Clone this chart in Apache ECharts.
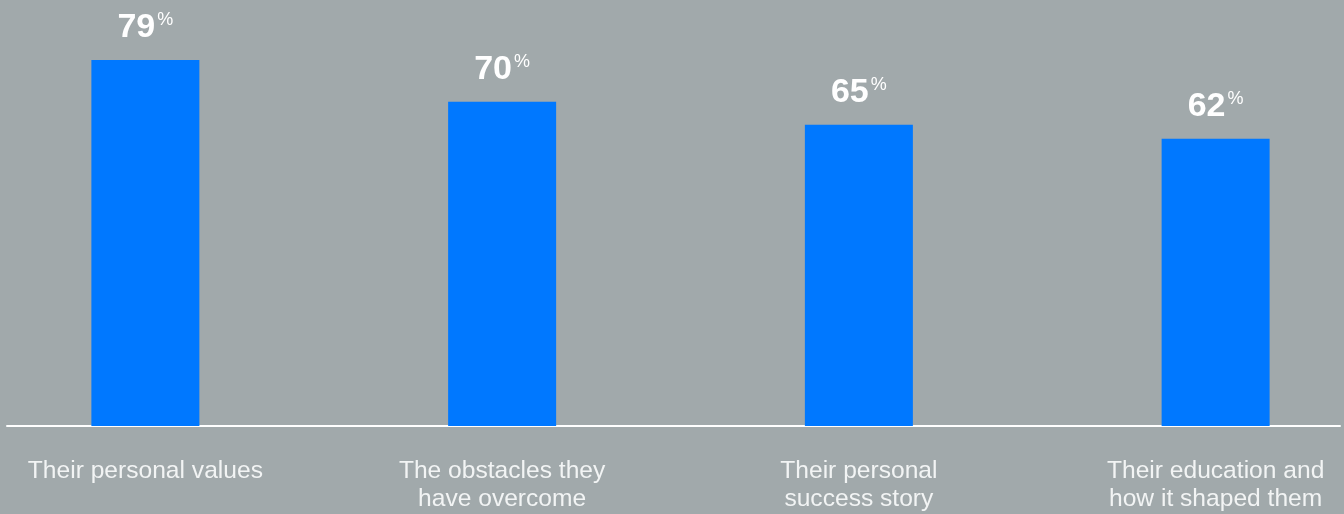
<!DOCTYPE html>
<html>
<head>
<meta charset="utf-8">
<script src="https://cdn.jsdelivr.net/npm/echarts@6/dist/echarts.min.js"></script>
<style>
html, body { margin: 0; padding: 0; background: #A1A9AB; }
#chart { width: 1344px; height: 514px; }
</style>
</head>
<body>
<div id="chart"></div>
<script>
var categories = ['Their personal values', 'The obstacles they\nhave overcome', 'Their personal\nsuccess story', 'Their education and\nhow it shaped them'];
var values = [79, 70, 65, 62];

var chart = echarts.init(document.getElementById('chart'));

var option = {
	backgroundColor: '#A1A9AB',
	animation: false,
	grid: [
		// bars (wider than the canvas so the columns land where they are in the source)
		{ left: -33, right: -50, top: 9, bottom: 88, outerBoundsMode: 'none', containLabel: false },
		// baseline only
		{ left: 7, right: 4, top: 9, bottom: 88, outerBoundsMode: 'none' }
	],
	xAxis: [{
		type: 'category',
		gridIndex: 0,
		data: categories,
		axisLine: { show: false },
		axisTick: { show: false },
		axisLabel: {
			color: '#F2F4F4',
			fontFamily: 'Liberation Sans, Arial, sans-serif',
			fontSize: 24.6,
			lineHeight: 28,
			margin: 31,
			interval: 0
		}
	}, {
		type: 'value',
		gridIndex: 1,
		min: 0,
		max: 1,
		axisLine: { show: true, onZero: false, lineStyle: { color: '#FFFFFF', width: 2 } },
		axisTick: { show: false },
		axisLabel: { show: false },
		splitLine: { show: false }
	}],
	yAxis: [{
		type: 'value',
		gridIndex: 0,
		min: 0,
		max: 90,
		show: false
	}, {
		type: 'value',
		gridIndex: 1,
		min: 0,
		max: 1,
		show: false
	}],
	series: [{
		type: 'bar',
		xAxisIndex: 0,
		yAxisIndex: 0,
		data: values,
		barWidth: 108,
		itemStyle: { color: '#0078FF' },
		label: {
			show: true,
			position: 'top',
			distance: 15,
			formatter: function (p) { return '{n|' + p.value + '}{p|%}'; },
			rich: {
				n: {
					color: '#FFFFFF',
					fontFamily: 'Liberation Sans, Arial, sans-serif',
					fontWeight: 'bold',
					fontSize: 34,
					lineHeight: 34
				},
				p: {
					color: '#FFFFFF',
					fontFamily: 'Liberation Sans, Arial, sans-serif',
					fontSize: 18,
					verticalAlign: 'top',
					padding: [0, 0, 9, 2]
				}
			}
		}
	}]
};

chart.setOption(option);
</script>
</body>
</html>
